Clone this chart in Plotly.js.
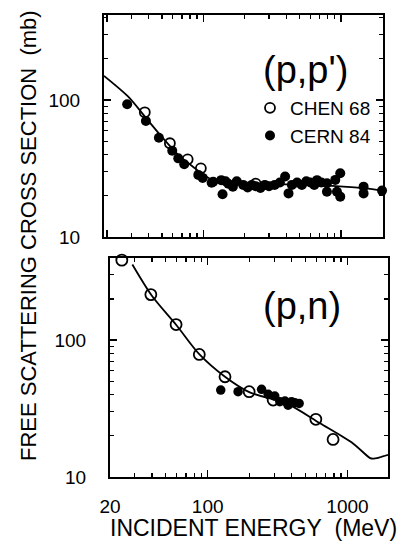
<!DOCTYPE html>
<html>
<head>
<meta charset="utf-8">
<script src="https://cdn.plot.ly/plotly-3.0.1.min.js"></script>
<style>html,body{margin:0;padding:0;background:#fff;}#chart{width:399px;height:548px;}</style>
</head>
<body>
<div id="chart"></div>
<script>
// ---- (p,p') panel data ----
var ppCurveE   = [19, 28.5, 37.7, 49.8, 65.8, 87, 100, 115, 130, 160, 250, 400, 700, 1040, 1500, 2020];
var ppCurveSig = [150, 105.7, 75.5, 54, 39.7, 31.7, 28.5, 26.3, 25.3, 24.8, 24.5, 24.2, 23.8, 23.3, 22.6, 21.8];

var ppChenE   = [37.6, 57.2, 77, 96, 240];
var ppChenSig = [81.3, 48.3, 36.9, 31.7, 24.5];

var ppCernE   = [28, 38.3, 47.6, 59.5, 65.8, 72.7, 92, 99, 115, 118, 138, 135, 145, 152, 164, 175, 195, 210, 225, 240, 260, 280, 300, 330, 360, 393, 416, 440, 480, 520, 560, 600, 640, 670, 720, 791, 791, 909, 988, 935, 988, 1460, 1460, 1987];
var ppCernSig = [93, 70.3, 53, 42.6, 37.5, 34, 28.4, 27, 24.9, 25.3, 20.5, 26, 25.5, 24.5, 23.3, 25.5, 24, 23, 24, 23.5, 22.8, 24, 23.5, 24, 25, 27.6, 20.8, 24, 25, 24, 25.5, 25, 24, 26, 25, 24.7, 21.4, 26.1, 29.2, 21.4, 19.7, 23.3, 20.8, 21.8];

// ---- (p,n) panel data ----
var pnCurveE   = [28.9, 40, 60, 87, 133, 200, 366, 636, 1096, 1443, 1520, 1700, 1950];
var pnCurveSig = [357, 210, 128, 79, 54, 41.5, 34.5, 24.7, 17.6, 13.8, 13.6, 13.9, 14.5];

var pnChenE   = [24.3, 39.2, 59.4, 87.1, 133, 198, 294, 594, 789];
var pnChenSig = [384, 215, 130, 78.6, 54, 42, 36.5, 26.4, 18.8];

var pnCernE   = [124, 165, 243, 271, 302, 328, 357, 376, 398, 420, 451];
var pnCernSig = [43.2, 42, 43.7, 40.2, 39, 35.5, 35.9, 33.5, 35.5, 34.9, 34.5];

// ---- tick labels / text ----
var xTickVals = [20, 100, 1000];
var xTickText = ['20', '100', '1000'];
var xMinor = [30, 40, 50, 60, 70, 80, 90, 200, 300, 400, 500, 600, 700, 800, 900];
var yTickVals = [10, 100];
var yTickText = ['10', '100'];
var yMinor = [20, 30, 40, 50, 60, 70, 80, 90, 200, 300, 400];
var legendNames = ['CHEN 68', 'CERN 84'];

var FONT = 'Liberation Sans, Arial, Helvetica, sans-serif';

var traces = [
  {x: ppCurveE, y: ppCurveSig, xaxis: 'x', yaxis: 'y', mode: 'lines', line: {color: '#000', width: 1.8, shape: 'spline', smoothing: 0.8}, showlegend: false, hoverinfo: 'skip'},
  {x: ppChenE, y: ppChenSig, xaxis: 'x', yaxis: 'y', mode: 'markers', name: legendNames[0],
   marker: {symbol: 'circle-open', size: 10, color: '#000', line: {width: 1.8, color: '#000'}}, cliponaxis: false},
  {x: ppCernE, y: ppCernSig, xaxis: 'x', yaxis: 'y', mode: 'markers', name: legendNames[1],
   marker: {symbol: 'circle', size: 10, color: '#000'}, cliponaxis: false},
  {x: pnCurveE, y: pnCurveSig, xaxis: 'x2', yaxis: 'y2', mode: 'lines', line: {color: '#000', width: 1.8, shape: 'spline', smoothing: 0.8}, showlegend: false, hoverinfo: 'skip'},
  {x: pnChenE, y: pnChenSig, xaxis: 'x2', yaxis: 'y2', mode: 'markers', showlegend: false,
   marker: {symbol: 'circle-open', size: 11, color: '#000', line: {width: 1.8, color: '#000'}}, cliponaxis: false},
  {x: pnCernE, y: pnCernSig, xaxis: 'x2', yaxis: 'y2', mode: 'markers', showlegend: false,
   marker: {symbol: 'circle', size: 9.5, color: '#000'}, cliponaxis: false}
];

function xAxis(domain, range, labels, anchor) {
  return {
    type: 'log', domain: domain, range: range, anchor: anchor,
    showline: true, linecolor: '#000', linewidth: 2, mirror: 'ticks',
    ticks: 'inside', ticklen: 7, tickwidth: 1.5, tickcolor: '#000',
    tickmode: 'array', tickvals: xTickVals, ticktext: xTickText,
    showticklabels: labels, ticklabelstandoff: 11,
    tickfont: {family: FONT, size: 19, color: '#000'},
    minor: {tickmode: 'array', tickvals: xMinor, ticks: 'inside', ticklen: 4, tickwidth: 1.3, tickcolor: '#000', showgrid: false},
    showgrid: false, zeroline: false, fixedrange: true
  };
}
function yAxis(domain, range, anchor) {
  return {
    type: 'log', domain: domain, range: range, anchor: anchor,
    showline: true, linecolor: '#000', linewidth: 2, mirror: 'ticks',
    ticks: 'inside', ticklen: 7, tickwidth: 1.5, tickcolor: '#000',
    tickmode: 'array', tickvals: yTickVals, ticktext: yTickText,
    ticklabelstandoff: 18,
    tickfont: {family: FONT, size: 19, color: '#000'},
    minor: {tickmode: 'array', tickvals: yMinor, ticks: 'inside', ticklen: 4, tickwidth: 1.3, tickcolor: '#000', showgrid: false},
    showgrid: false, zeroline: false, fixedrange: true
  };
}

var layout = {
  width: 399, height: 548, autosize: false,
  margin: {l: 0, r: 0, t: 0, b: 0},
  paper_bgcolor: '#fff', plot_bgcolor: 'rgba(0,0,0,0)',
  font: {family: FONT, color: '#000'},
  xaxis: xAxis([104/399, 383/399], [Math.log10(19), Math.log10(2020)], false, 'y'),
  yaxis: yAxis([1 - 237/548, 1 - 15/548], [1, 2.62], 'x'),
  xaxis2: xAxis([110/399, 388/399], [Math.log10(20), Math.log10(1950)], true, 'y2'),
  yaxis2: yAxis([1 - 477/548, 1 - 258/548], [1, 2.60], 'x2'),
  showlegend: true,
  legend: {x: 250/399, y: 1 - 89/548, xanchor: 'left', yanchor: 'top', bgcolor: 'rgba(0,0,0,0)',
           font: {family: FONT, size: 19, color: '#000'}, tracegroupgap: 0, itemwidth: 30},
  annotations: [
    {text: "(p,p')", xref: 'paper', yref: 'paper', x: 305/399, y: 1 - 70/548, showarrow: false,
     font: {family: FONT, size: 38, color: '#000'}, xanchor: 'center', yanchor: 'middle'},
    {text: '(p,n)', xref: 'paper', yref: 'paper', x: 302/399, y: 1 - 306/548, showarrow: false,
     font: {family: FONT, size: 38, color: '#000'}, xanchor: 'center', yanchor: 'middle'},
    {text: 'FREE SCATTERING CROSS SECTION&nbsp;&nbsp;(mb)', xref: 'paper', yref: 'paper', x: 28/399, y: 1 - 236/548,
     showarrow: false, textangle: -90, font: {family: FONT, size: 22, color: '#000'}, xanchor: 'center', yanchor: 'middle'},
    {text: 'INCIDENT ENERGY&nbsp;&nbsp;(MeV)', xref: 'paper', yref: 'paper', x: 253/399, y: 1 - 528/548,
     showarrow: false, font: {family: FONT, size: 23, color: '#000'}, xanchor: 'center', yanchor: 'middle'}
  ]
};

Plotly.newPlot('chart', traces, layout, {displayModeBar: false, staticPlot: true});
</script>
</body>
</html>
